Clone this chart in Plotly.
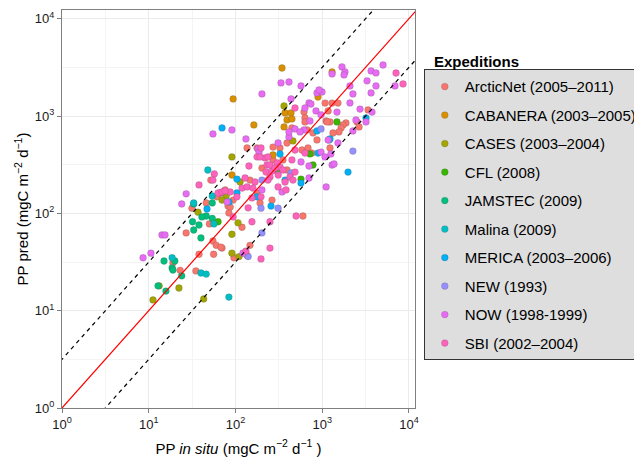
import plotly.graph_objects as go

# ---------------- data (PP in situ, PP predicted; mgC m-2 d-1) ----------------
expeditions = [
    "ArcticNet (2005–2011)", "CABANERA (2003–2005)", "CASES (2003–2004)",
    "CFL (2008)", "JAMSTEC (2009)", "Malina (2009)", "MERICA (2003–2006)",
    "NEW (1993)", "NOW (1998-1999)", "SBI (2002–2004)",
]
colors = ["#F8766D", "#D89000", "#A3A500", "#39B600", "#00BF7D",
          "#00BFC4", "#00B0F6", "#9590FF", "#E76BF3", "#FF62BC"]

arcticnet_x = [19, 23, 27, 38, 35, 50, 55, 60, 56, 70, 96, 119, 52, 31.5, 46, 82, 68, 147, 136,
               600, 617, 633, 633, 1080, 1300, 1520, 1170, 1110, 1230, 1880, 1740, 1650, 1560,
               1330, 1230, 448, 667, 1140, 3380, 2520, 2660, 177, 271, 202, 286, 393, 353, 585,
               686, 762, 393, 147, 76, 61, 94, 87, 84, 192, 177, 264, 326, 783, 871, 136, 271]
arcticnet_y = [31, 26, 63, 38, 25.6, 78, 52, 47, 38, 44, 35, 72, 220, 113, 128, 119, 45, 47, 37,
               94, 1100, 956, 870, 1360, 1360, 1360, 1130, 890, 870, 850, 811, 755, 687,
               670, 470, 755, 720, 870, 1156, 870, 773, 470, 354, 292, 279, 279, 354, 448,
               470, 417, 529, 220, 174, 148, 137, 116, 101, 128, 162, 137, 470, 671, 568, 470, 480]

cabanera_x = [344, 94, 163, 1300, 894, 373, 437, 393, 448, 363, 271, 91]
cabanera_y = [3120, 1500, 811, 2840, 1570, 1077, 1077, 912, 934, 773, 398, 248]

cases_x = [363, 91, 460, 37, 78, 70, 91, 107, 91, 110, 13.2, 11.2, 22.3, 43, 113, 68]
cases_y = [1270, 380, 555, 103, 151, 137, 61, 80, 39, 36, 18, 12.9, 17.1, 13.2, 210, 162]

cfl_x = [1480, 783, 723, 63, 310, 570]
cfl_y = [870, 314, 408, 82, 279, 225]

jamstec_x = [33, 46, 54, 32, 38, 33, 40, 54, 15, 20, 18.6, 19, 24, 12.8, 15.8, 41]
jamstec_y = [125, 94, 89, 82, 76, 67.5, 56, 128, 32.4, 32.4, 27.5, 26.2, 22.8, 18, 15.9, 92]

malina_x = [48, 33, 54, 56.5, 18.6, 40, 46, 84]
malina_y = [279, 128, 151, 78, 35, 24.4, 23.8, 13.8]

merica_x = [70, 1985, 3200, 1200, 570, 373, 104, 104, 177, 257, 84, 47, 326, 871, 894, 1230]
merica_y = [755, 266, 956, 568, 205, 220, 225, 162, 148, 119, 131, 111, 408, 703, 417, 582]

new_x = [2260, 970, 197, 310, 202, 437, 202, 140]
new_y = [437, 737, 113, 113, 63, 260, 220, 36]

now_x = [202, 335, 414, 570, 437, 704, 871, 995, 1300, 1690, 1830, 1785, 3660, 4170, 5030,
         6910, 3290, 4170, 2090, 2260, 3660, 2090, 848, 2730, 3750, 970, 2450, 3200, 2260,
         1520, 970, 1300, 1110, 704, 704, 570, 723, 617, 486, 414, 310, 182, 132, 91, 55,
         27, 24, 8.6, 10.6, 14.2, 15.4, 80, 122, 633, 742, 919, 414, 1480, 1260, 1370, 555,
         1170, 1078, 345, 202, 187]
now_y = [1690, 2190, 2240, 2040, 1500, 1365, 1730, 1770, 2710, 3200, 2840, 2645, 2910, 2775, 3350,
         2040, 2300, 2040, 2040, 1690, 1730, 1365, 1130, 1180, 1100, 1030, 912, 870, 703,
         529, 427, 314, 187, 307, 231, 338, 891, 720, 737, 610, 529, 459, 582, 720, 655,
         159, 125, 35, 39, 60, 60, 131, 39, 1210, 1330, 1855, 687, 1100, 408, 322, 687,
         568, 380, 166, 174, 427]

sbi_x = [57, 38, 143, 500, 250, 132, 197, 155, 250, 7100, 8550, 486, 197, 219, 237, 302, 231,
         225, 264, 250, 326, 425, 486, 448, 486, 633, 373, 461, 129, 168, 87, 66, 104, 94, 55,
         155, 140, 119, 136, 159, 197, 177, 192, 63, 70, 76, 250, 286, 311, 353, 237, 310, 383]
sbi_y = [254, 196, 307, 94, 44, 41, 34, 82, 82, 2770, 2140, 1210, 470, 371, 380, 330, 314,
         266, 272, 237, 300, 237, 266, 354, 448, 417, 210, 220, 231, 210, 166, 162, 148, 92, 220,
         144, 114, 182, 187, 182, 148, 380, 380, 162, 166, 170, 314, 292, 248, 279, 220, 187, 174]

series_x = [arcticnet_x, cabanera_x, cases_x, cfl_x, jamstec_x,
            malina_x, merica_x, new_x, now_x, sbi_x]
series_y = [arcticnet_y, cabanera_y, cases_y, cfl_y, jamstec_y,
            malina_y, merica_y, new_y, now_y, sbi_y]

ref_x = [0.1, 100000]          # 1:1 line and half-decade envelope
half_decade = 10 ** 0.5

tick_vals = [1, 10, 100, 1000, 10000]
tick_text = ["10<sup>0</sup>", "10<sup>1</sup>", "10<sup>2</sup>", "10<sup>3</sup>", "10<sup>4</sup>"]
minor_vals = [10 ** 0.5, 10 ** 1.5, 10 ** 2.5, 10 ** 3.5]

# ---------------- figure ----------------
fig = go.Figure()

for name, col, xs, ys in zip(expeditions, colors, series_x, series_y):
    fig.add_trace(go.Scatter(
        x=xs, y=ys, mode="markers", name=name, legendgroup=name,
        marker=dict(color=col, size=6.8, line=dict(color="rgba(70,70,70,0.4)", width=0.5)),
    ))

fig.add_trace(go.Scatter(x=ref_x, y=[v * half_decade for v in ref_x], mode="lines",
                         line=dict(color="black", width=1.2, dash="4px,4px"),
                         showlegend=False, hoverinfo="skip"))
fig.add_trace(go.Scatter(x=ref_x, y=[v / half_decade for v in ref_x], mode="lines",
                         line=dict(color="black", width=1.2, dash="4px,4px"),
                         showlegend=False, hoverinfo="skip"))
fig.add_trace(go.Scatter(x=ref_x, y=ref_x, mode="lines",
                         line=dict(color="red", width=1.2),
                         showlegend=False, hoverinfo="skip"))

axis_common = dict(
    type="log", tickvals=tick_vals, ticktext=tick_text,
    showgrid=True, gridcolor="#EBEBEB", gridwidth=1,
    minor=dict(tickvals=minor_vals, showgrid=True, gridcolor="#F4F4F4", gridwidth=0.6, ticks=""),
    showline=True, linecolor="#7F7F7F", linewidth=1, mirror=True,
    ticks="outside", ticklen=4, tickcolor="#7F7F7F", tickwidth=1,
    tickfont=dict(size=13, color="#1A1A1A"), zeroline=False,
)

fig.update_xaxes(**axis_common, range=[0, 4.07],
                 title=dict(text="PP <i>in situ</i> (mgC m<sup>−2</sup> d<sup>−1</sup> )",
                            font=dict(size=15, color="black"), standoff=12))
fig.update_yaxes(**axis_common, range=[0, 4.09],
                 title=dict(text="PP pred (mgC m<sup>−2</sup> d<sup>−1</sup>)",
                            font=dict(size=15, color="black"), standoff=2))

fig.update_layout(
    width=642, height=460,
    margin=dict(l=54, r=235, t=2, b=60, autoexpand=False),
    plot_bgcolor="white", paper_bgcolor="white",
    font=dict(family="Liberation Sans, Arial, sans-serif", size=15, color="black"),
    legend=dict(x=1.025, xanchor="left", y=0.851, yanchor="top",
                bgcolor="#DEDEDE", bordercolor="#333333", borderwidth=1,
                font=dict(size=15), tracegroupgap=6, itemsizing="trace"),
    annotations=[dict(text="<b>Expeditions</b>", xref="paper", yref="paper",
                      x=1.049, y=0.871, xanchor="left", yanchor="middle",
                      showarrow=False, font=dict(size=15, color="black"))],
    showlegend=True,
)

fig.write_html("out.html")
